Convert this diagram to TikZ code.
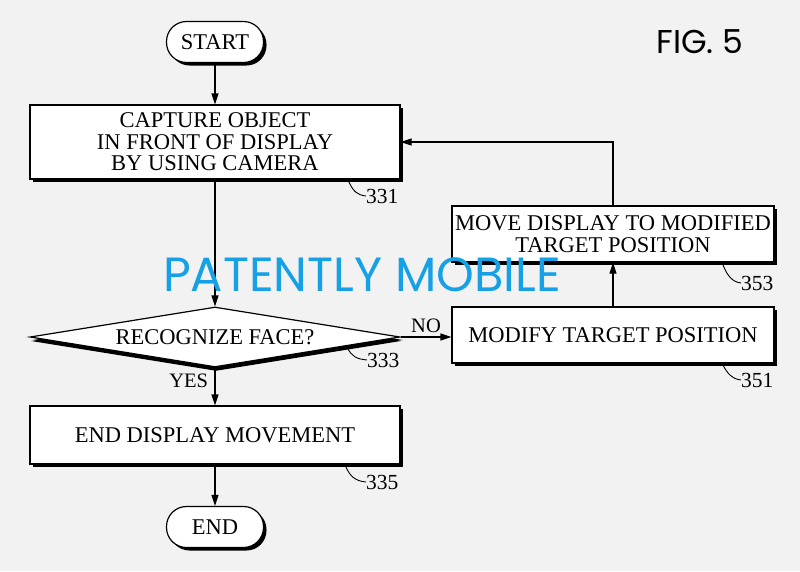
\documentclass[tikz,border=0pt]{standalone}
\usepackage{fontspec}
\setmainfont{Liberation Serif}
\newfontfamily\markfont{Poppins}
\usetikzlibrary{shapes.geometric,shadows,arrows.meta}
\definecolor{paper}{RGB}{242,242,242}
\definecolor{markblue}{RGB}{22,160,230}
\begin{document}
\begin{tikzpicture}
    [x=1pt, y=-1pt,
     shade/.style={drop shadow={shadow xshift=3pt, shadow yshift=-3pt, fill=black, opacity=1}},
     stepbox/.style={draw, fill=white, line width=1.2pt, shade, inner sep=0pt, align=center, font=\fontsize{22.5}{21.5}\selectfont},
     term/.style={stepbox, rounded corners=20pt, minimum width=97pt, minimum height=41pt},
     decision/.style={diamond, aspect=6, stepbox, minimum width=370pt, minimum height=60pt,
                      drop shadow={shadow xshift=1pt, shadow yshift=-4pt, fill=black, opacity=1}},
     flow/.style={line width=1.2pt, -{Triangle[length=11pt,width=7pt]}},
     refnum/.style={anchor=west, inner sep=0pt, font=\fontsize{21.5}{22}\selectfont},
     leader/.style={line width=0.9pt}]
    \useasboundingbox[fill=paper] (0,0) rectangle (800,571);
    \node[term] (start) at (215,42) {START};
    \node[stepbox, minimum width=370pt, minimum height=74pt] (capture) at (215,142) {CAPTURE OBJECT\\IN FRONT OF DISPLAY\\BY USING CAMERA};
    \node[decision] (face) at (215,337) {RECOGNIZE FACE?};
    \node[stepbox, minimum width=370pt, minimum height=58pt] (stop) at (215,435) {END DISPLAY MOVEMENT};
    \node[term] (end) at (215,527) {END};
    \node[stepbox, minimum width=322pt, minimum height=56pt] (modify) at (613,335) {MODIFY TARGET POSITION};
    \node[stepbox, minimum width=322pt, minimum height=56pt] (move) at (613,234) {MOVE DISPLAY TO MODIFIED\\[1pt]TARGET POSITION};
    \draw[flow] (start) -- (capture);
    \draw[flow] (capture) -- (face);
    \draw[flow] (face) -- node[pos=0.35, left=3pt, font=\fontsize{20.5}{20}\selectfont] {YES} (stop);
    \draw[flow] (stop) -- (end);
    \draw[flow] (face.east) -- node[above, font=\fontsize{20.5}{20}\selectfont] {NO} (face.east -| modify.west);
    \draw[flow] (modify) -- (move);
    \draw[flow] (move.north) |- (capture.east);
    \node[refnum] (n331) at (366,196) {331};
    \node[refnum] (n333) at (367,360) {333};
    \node[refnum] (n335) at (366,482) {335};
    \node[refnum] (n353) at (741,283) {353};
    \node[refnum] (n351) at (741,380) {351};
    \draw[leader] (349,182) .. controls (353,191) and (357,195) .. (n331.west);
    \draw[leader] (348,349) .. controls (352,356) and (356,359) .. (n333.west);
    \draw[leader] (346,467) .. controls (350,476) and (355,481) .. (n335.west);
    \draw[leader] (723,265) .. controls (727,275) and (732,282) .. (n353.west);
    \draw[leader] (723,365) .. controls (727,373) and (732,379) .. (n351.west);
    \node[font=\markfont\fontsize{33}{33}\selectfont] (fig) at (700,42) {FIG. 5};
    \node[text=markblue, font=\markfont\fontsize{48}{48}\selectfont] (mark) at (362,275) {PATENTLY MOBILE};
\end{tikzpicture}
\end{document}
